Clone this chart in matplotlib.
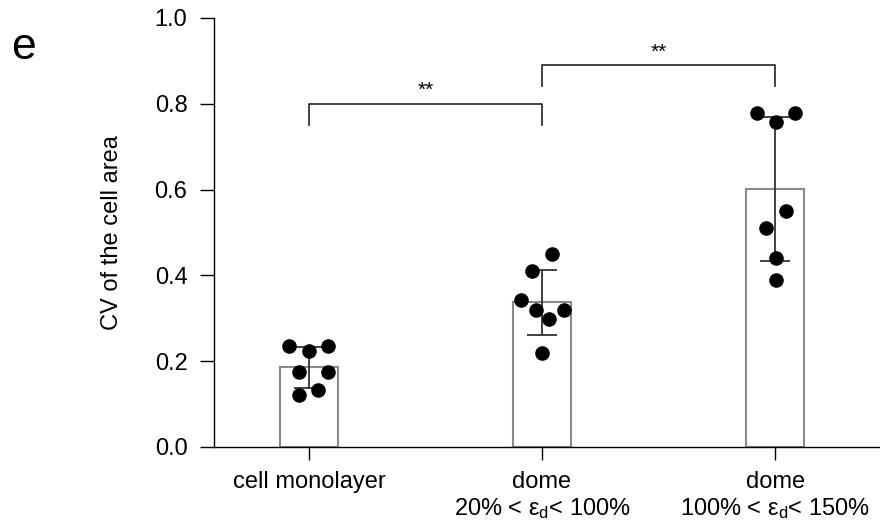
import matplotlib
matplotlib.use("Agg")
import matplotlib.pyplot as plt
import numpy as np

plt.rcParams['font.family'] = ['Liberation Sans', 'DejaVu Sans']
plt.rcParams['mathtext.fontset'] = 'custom'
plt.rcParams['mathtext.rm'] = 'Liberation Sans'
plt.rcParams['mathtext.it'] = 'Liberation Sans'

# data
groups = ["cell monolayer",
          "dome\n20% < $\\mathregular{ε_d}$< 100%",
          "dome\n100% < $\\mathregular{ε_d}$< 150%"]
means = [0.186, 0.338, 0.601]
err_low = [0.137, 0.261, 0.434]
err_high = [0.233, 0.413, 0.769]

pts1 = [0.235, 0.224, 0.235, 0.175, 0.175, 0.121, 0.133]
pts2 = [0.450, 0.410, 0.343, 0.319, 0.319, 0.298, 0.219]
pts3 = [0.779, 0.758, 0.779, 0.550, 0.511, 0.441, 0.389]
# horizontal scatter of the dots (in category units)
jit1 = [-0.086, 0.0, 0.082, -0.043, 0.082, -0.043, 0.039]
jit2 = [0.043, -0.043, -0.09, -0.026, 0.094, 0.03, 0.0]
jit3 = [-0.077, 0.004, 0.086, 0.047, -0.039, 0.004, 0.004]

brackets = [(0, 1, 0.80, 0.75), (1, 2, 0.890, 0.841)]

fig = plt.figure(figsize=(8.8, 5.27), dpi=100)
ax = fig.add_axes([0.243, 0.152, 0.757, 0.814])

x = np.arange(len(groups))
ax.bar(x, means, width=0.25, facecolor="white", edgecolor="#8a8a8a",
       linewidth=1.5, zorder=1)

for i, (pts, jit) in enumerate(zip([pts1, pts2, pts3], [jit1, jit2, jit3])):
    ax.scatter(i + np.array(jit), pts, s=110, color="black", zorder=3,
               linewidths=0)

yerr = [np.array(means) - np.array(err_low), np.array(err_high) - np.array(means)]
ax.errorbar(x, means, yerr=yerr, fmt="none", ecolor="#333333", elinewidth=1.3,
            capsize=10.5, capthick=1.3, zorder=2)

for a, b, top, foot in brackets:
    ax.plot([a, a, b, b], [foot, top, top, foot], color="#222222", lw=1.2)
    ax.text((a + b) / 2, top + 0.008, "**", ha="center", va="bottom", fontsize=15)

ax.set_xlim(-0.408, 2.45)
ax.set_ylim(0, 1.0)
ax.set_yticks([0, 0.2, 0.4, 0.6, 0.8, 1.0])
ax.set_yticklabels(["0.0", "0.2", "0.4", "0.6", "0.8", "1.0"])
ax.set_xticks(x)
ax.set_xticklabels(groups, linespacing=1.2)
ax.tick_params(axis="y", length=10, width=1, labelsize=17, pad=9)
ax.tick_params(axis="x", length=9, width=1, labelsize=17, pad=8)
for s in ["top", "right"]:
    ax.spines[s].set_visible(False)
ax.spines["left"].set_linewidth(1)
ax.spines["bottom"].set_linewidth(1)
ax.set_ylabel("CV of the cell area", fontsize=17, labelpad=23)

fig.text(0.013, 0.91, "e", fontsize=32, va="center")

fig.savefig("out.png", dpi=100)
